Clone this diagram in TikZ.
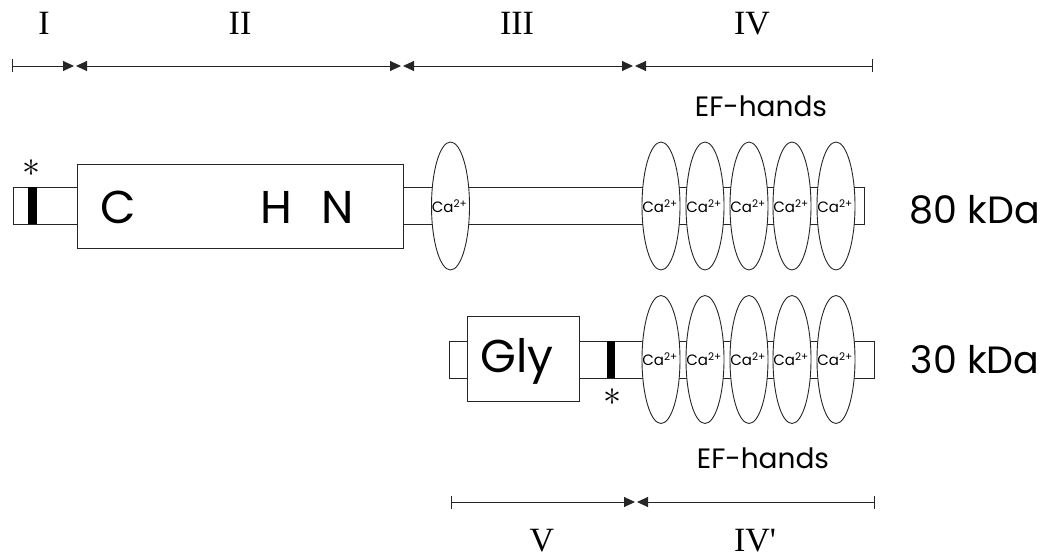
\documentclass[tikz,border=0pt]{standalone}
\usepackage{fontspec}
\setmainfont{Poppins}
\newfontfamily\romfont{Liberation Serif}
\usetikzlibrary{arrows.meta,shapes.geometric}
\begin{document}
\begin{tikzpicture}[x=1pt,y=-1pt,
  ln/.style={draw=black!85, line width=0.9pt},
  rect/.style={ln, rectangle, inner sep=0pt, minimum width=#1},
  barh/.style={minimum height=37pt},
  mark/.style={fill=black, draw=none, rectangle, inner sep=0pt, minimum width=#1, minimum height=37pt},
  efh/.style={ln, ellipse, fill=white, inner sep=0pt, minimum width=38pt, minimum height=128pt, font=\fontsize{15}{15}\selectfont},
  big/.style={font=\fontsize{46}{46}\selectfont, anchor=base, inner sep=0pt},
  kda/.style={font=\fontsize{38}{38}\selectfont, anchor=base, inner sep=0pt},
  eft/.style={font=\fontsize{28}{28}\selectfont, anchor=base, inner sep=0pt},
  rom/.style={font=\romfont\fontsize{34}{34}\selectfont, anchor=base, inner sep=0pt},
  star/.style={inner sep=0pt},
  rule/.style={draw=black!85, line width=0.9pt},
  tip/.tip={Triangle[length=11pt,width=10pt]},
  tick/.tip={Bar[width=13pt]}
]
\useasboundingbox (0,0) rectangle (1047,559);
\newcommand{\caion}{\makebox[0pt]{\kern-2pt Ca\textsuperscript{2+}}}
\newcommand{\bigast}{\scalebox{3.6}{$\ast$}}

% ---------- top ruler ----------
\coordinate (t0) at (12,66);
\coordinate (t1a) at (74,66);
\coordinate (t1b) at (76,66);
\coordinate (t2a) at (401,66);
\coordinate (t2b) at (403,66);
\coordinate (t3a) at (633,66);
\coordinate (t3b) at (635,66);
\coordinate (t4) at (873,66);
\draw[rule, tick-tip] (t0) -- (t1a);
\draw[rule, tip-tip] (t1b) -- (t2a);
\draw[rule, tip-tip] (t2b) -- (t3a);
\draw[rule, tip-tick] (t3b) -- (t4);
\node[rom] (lI) at (44,35) {I};
\node[rom] (lII) at (240,35) {II};
\node[rom] (lIII) at (517,35) {III};
\node[rom] (lIV) at (752,35) {IV};

% ---------- 80 kDa row ----------
\node[rect=64pt, barh] (tailL1) at (45,205.5) {};
\node[mark=9pt] (mark1) at (32.5,205.5) {};
\node[star] (star1) at (32,168) {\bigast};
\node[rect=461pt, barh] (bar1) at (633.5,205.5) {};
\node[rect=326pt, minimum height=84pt, fill=white] (box1) at (240,206) {};
\node[big] (C) at (118,223) {C};
\node[big] (H) at (276,223) {H};
\node[big] (N) at (338,223) {N};
\node[efh] (e0) at (450.5,206) {\caion};
\foreach \i/\x in {1/661,2/705,3/749,4/792,5/836}
  \node[efh] (a\i) at (\x,206) {\caion};
\node[eft] (ef1) at (761,117) {EF-hands};
\node[kda] (k80) at (975,223) {80 kDa};

% ---------- 30 kDa row ----------
\node[rect=18pt, barh] (tailL2) at (458,359.5) {};
\node[rect=295pt, barh] (bar2) at (726.5,359.5) {};
\node[rect=112pt, minimum height=85pt, fill=white] (box2) at (523,358.5) {};
\node[big] (gly) at (517,372) {Gly};
\node[mark=8pt] (mark2) at (611,359.5) {};
\node[star] (star2) at (612,397) {\bigast};
\foreach \i/\x in {1/661,2/705,3/749,4/792,5/836}
  \node[efh] (b\i) at (\x,359.5) {\caion};
\node[eft] (ef2) at (763,468) {EF-hands};
\node[kda] (k30) at (975,373) {30 kDa};

% ---------- bottom ruler ----------
\coordinate (u0) at (451,502);
\coordinate (u1a) at (635,502);
\coordinate (u1b) at (637,502);
\coordinate (u2) at (875,502);
\draw[rule, tick-tip] (u0) -- (u1a);
\draw[rule, tip-tick] (u1b) -- (u2);
\node[rom] (lV) at (542,551) {V};
\node[rom] (lIVp) at (755,551) {IV'};
\end{tikzpicture}
\end{document}
